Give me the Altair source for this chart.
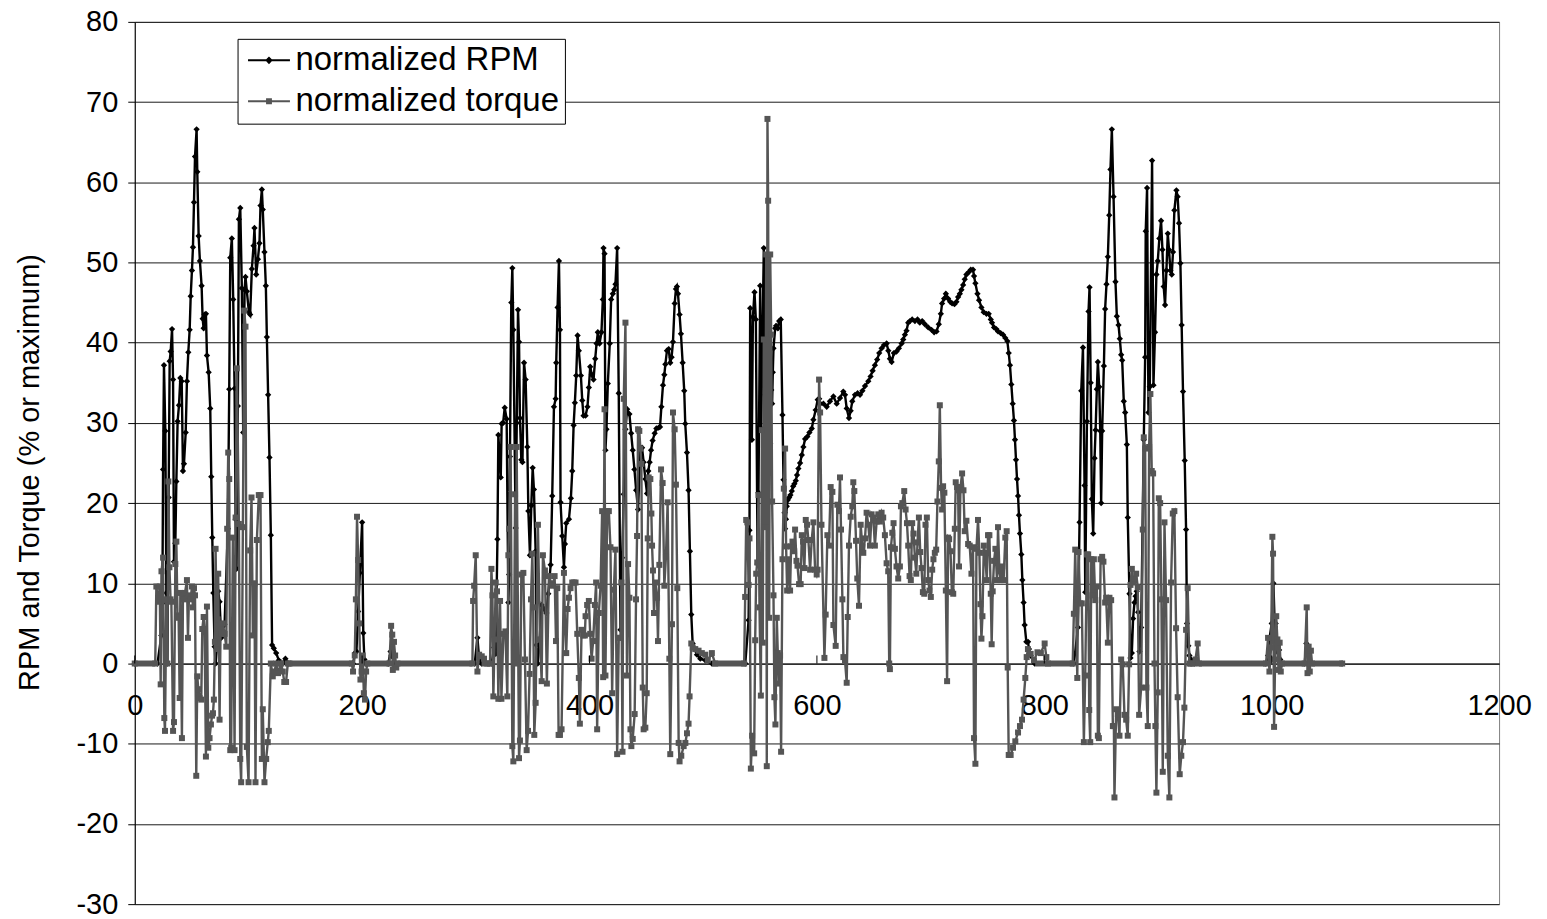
import altair as alt
import pandas as pd

# ---------------- data ----------------
# normalized RPM, (time, value) pairs per driving segment
rpm_seg1 = [(0, 0), (20, 0), (23.4, 3.5), (24.3, 7.5), (24.9, 24.2), (25.7, 37.2), (26.9, 29), (27.8, 8.8), (28.7, 0),
            (29.8, 20.7), (30.7, 37.7), (31.6, 38.9), (32.8, 41.7), (33.7, 35.4), (34.5, 12.7), (35.7, 15), (36.6, 22.7),
            (37.7, 30.2), (38.9, 32.2), (40.1, 35.6), (41.3, 35.2), (42.4, 24), (43.3, 24.9), (44.8, 28.8), (45.9, 35.2),
            (47.1, 38.8), (48.3, 41.6), (49.2, 45.8), (50.3, 49), (51.2, 51.9), (52.1, 57.5), (53, 63.2), (54.4, 66.6),
            (55, 61.3), (56.2, 53.3), (57.3, 50.2), (58.8, 47.1), (59.7, 43), (60.6, 41.8), (61.4, 43.5), (62.6, 43.6),
            (63.5, 38.4), (65, 36.3), (66.4, 31.8), (67.3, 23.3), (68.2, 15.7), (69.1, 8.8), (70.2, 2.1), (71.1, 0),
            (72.3, 2.1), (73.4, 9), (74.6, 7.7), (76.1, 3.2), (77.5, 4.6), (79, 4.9), (81.9, 16.8), (83.1, 34.2),
            (84, 50.6), (85.4, 53), (86.6, 45.4), (87.8, 34.3), (88.7, 18), (89.5, 11.8), (90.7, 32.1), (91.6, 55.4),
            (92.8, 56.8), (94.2, 46.8), (95.4, 28.8), (96.6, 46.6), (97.4, 48.2), (98.6, 46.4), (100.4, 43.8),
            (101.5, 43.5), (103, 49.2), (104.5, 52.1), (105.3, 54.3), (106.8, 48.5), (108.3, 50.4), (109.7, 52.4),
            (110.6, 57.1), (111.8, 59.1), (112.6, 56.6), (114.1, 51.3), (115.3, 47.1), (116.2, 40.7), (117.3, 33.5),
            (118.5, 25.7), (119.7, 16), (120.8, 2.3), (122.3, 1.9), (124.4, 1.3), (126.7, 0.4), (130.2, 0), (132.5, 0.6),
            (135, 0)]
rpm_seg2 = [(192, 0), (193.7, 1.3), (195, 1.5), (196.5, 6.5), (198, 11.3), (200, 17.6), (201, 3.8), (202, 0.5),
            (203, 0), (223, 0), (225, 1.5), (226, 1), (227, 0.8), (228, 0), (299, 0), (301.4, 3.2), (303, 0.5), (305, 0)]
rpm_seg3 = [(314, 0), (316, 2), (317.5, 1.2), (319, 15.5), (319.8, 28.5), (321.9, 23.2), (322.7, 29.9), (324, 30),
            (325.4, 31.9), (327.1, 30.5), (328.6, 7.6), (329.3, 11.1), (330, 25.8), (331.2, 45), (332.1, 49.3),
            (333, 41.6), (335, 16.9), (336, 30), (337.1, 44.1), (338, 40.1), (338.8, 30.6), (340, 25.4), (341, 25.1),
            (342.4, 37.5), (343.8, 35.4), (345.3, 27), (346.2, 19), (347.6, 13.5), (348.8, 19.7), (350, 24.4),
            (351.1, 21.7), (352.6, 14), (353.2, 2.3), (354.4, 0), (355.8, 2.3), (357.9, 7.3), (360, 6.8), (362, 6.3),
            (363.7, 8.7), (365.8, 12.3), (367.2, 20.9), (368.7, 32), (370.2, 33), (370.7, 37.5), (371.9, 44.4),
            (373.1, 50.2), (374, 41.6), (374.5, 20.1), (376, 15.9), (377.5, 12), (378.4, 14.9), (379.5, 17.5),
            (381.9, 18), (383.6, 20.6), (384.8, 24), (386, 29.7), (387.1, 32.5), (388.3, 35.9), (389.5, 40.9),
            (390.6, 39), (392.4, 35.9), (393.6, 32.8), (394.7, 30.9), (396.5, 30.9), (398.2, 32), (399.4, 34.4),
            (400.6, 37), (402, 36), (403.5, 35.4), (405, 38), (406.2, 39.9), (407.3, 41.3), (408.8, 39.9), (410.5, 41.3),
            (411.7, 45.4), (412.3, 51.8), (413.2, 51.1), (414, 26.6), (414.9, 29.2), (416.1, 34.9), (417.8, 39.9),
            (419, 45.4), (420.5, 46.1), (421.7, 46.6), (422.8, 47.3), (424.3, 51.8), (425.7, 33.7), (427.2, 4.2),
            (428.7, 13.2), (430.1, 21.1), (431.6, 29.2), (433.1, 31.7), (435.1, 31.1), (436.6, 28.7), (438, 26.6),
            (439.5, 24.2), (441, 21.6), (442.7, 19.2), (444.7, 26.8), (446.2, 26.9), (447.6, 25.1), (449.1, 23),
            (450.6, 21.2), (451.7, 24), (452.9, 25.1), (454.1, 26.6), (455.5, 27.8), (457.3, 28.7), (458.8, 29.3),
            (460.8, 29.4), (462, 29.5), (463.2, 32), (464.6, 34.7), (465.8, 36), (466.7, 37.3), (468.1, 39),
            (469.6, 39.2), (471, 37.5), (472.2, 38.2), (473.4, 40.1), (474.9, 44.9), (476, 46.7), (476.9, 47),
            (477.8, 46.1), (479.2, 43.5), (480.4, 41.1), (481.9, 37.5), (483.3, 34), (484.2, 29.9), (485.7, 26.3),
            (487.1, 21.6), (488.3, 14), (489.5, 6.1), (490.7, 2.5), (492.4, 1.8), (494.5, 1.1), (497.4, 0.6),
            (501.8, 0.4), (507.6, 0)]
rpm_seg4 = [(537, 0), (539.9, 5.4), (540.7, 16.6), (541.3, 44.3), (542.8, 27.9), (543.7, 43.2), (545.1, 46.3),
            (546.3, 42.9), (547.8, 12.4), (548.6, 21.3), (550.1, 47.1), (551, 29.3), (552.1, 40.4), (553.3, 51.8),
            (554.5, 33.5), (555.4, 31.6), (556.5, 46), (557.7, 24.6), (558.9, 27.4), (559.8, 34.1), (560.6, 32.4),
            (561.2, 36.3), (561.8, 39.3), (563.3, 41.8), (564.1, 42.1), (565.6, 41.8), (566.8, 42.7), (568.2, 42.9),
            (569.7, 31), (570.6, 22.9), (571.5, 18.8), (572, 16.8), (572.8, 18), (573.5, 19.6), (574.4, 20.4),
            (575.6, 20.7), (576.7, 21), (577.9, 21.5), (579.1, 22.1), (580.2, 22.4), (581.4, 22.8), (582.5, 23.5),
            (583.7, 24.3), (585.2, 25), (586.7, 26), (588.1, 27), (589.6, 28), (591.6, 28.3), (593.4, 28.8),
            (595.5, 29.3), (596.9, 30.4), (598.9, 31.6), (600.7, 32.9), (602, 33), (603, 32.4), (605.7, 32.4),
            (608.6, 32), (611.5, 32.7), (614.5, 33.3), (617.4, 32.4), (620.3, 33.1), (623.2, 33.9), (624.7, 33.5),
            (626.2, 31.8), (628.2, 30.6), (629.7, 31.5), (631.1, 32.7), (633.5, 33.5), (635.8, 33.7), (637.9, 33.5),
            (640, 34), (642.3, 34.6), (645.2, 35.2), (647.2, 35.8), (649, 36.5), (651, 37.2), (653, 37.9),
            (654.8, 38.7), (656.9, 39.3), (659, 39.7), (661.3, 39.9), (662.8, 39), (664.2, 38), (665.7, 37.6),
            (667.7, 38.7), (670, 38.9), (672.1, 39.3), (674.5, 39.9), (675.9, 40.4), (677.4, 41), (678.8, 41.5),
            (680.3, 42.5), (681.8, 42.7), (683.8, 42.9), (686.2, 42.7), (688.5, 42.9), (690.5, 42.5), (692.6, 42.7),
            (695, 42.3), (697.9, 41.9), (700.8, 41.6), (703.1, 41.3), (705.2, 41.4), (707.2, 42.3), (709, 43.6),
            (710.1, 44.9), (711.9, 45.5), (713.4, 46.1), (715.4, 45.5), (717.2, 45.1), (718.9, 44.9), (721, 44.8),
            (722.7, 45.1), (724.2, 45.7), (725.7, 46.1), (727.1, 46.6), (728.6, 47.2), (730, 47.9), (731.5, 48.5),
            (733.6, 48.8), (735.3, 49.1), (737.3, 49.1), (738.2, 48.3), (739.4, 47.4), (741.2, 46.1), (742.6, 45.3),
            (744.7, 44.4), (746.7, 43.8), (749.1, 43.6), (751.1, 43.6), (752.9, 42.9), (754, 42.5), (755.8, 41.9),
            (757.8, 41.7), (759.3, 41.4), (761.6, 41.2), (763.7, 41), (765.7, 40.6), (767.5, 40.2), (768.7, 38.7),
            (769.8, 37.2), (771, 34.8), (772.2, 32.4), (773.3, 30.3), (774.2, 27.9), (775.1, 25.4), (776, 23),
            (776.9, 20.9), (777.7, 18.5), (778.6, 16.2), (779.8, 13.6), (780.7, 10.4), (781.8, 7.6), (782.7, 4.8),
            (784.2, 2.7), (785.7, 2.7), (786.5, 1.8), (788, 1), (791.5, 0)]
rpm_seg5 = [(826, 0), (829.6, 4.5), (831, 17.6), (832.5, 34), (834, 39.4), (835.4, 22.2), (836, 8.9), (837.5, 30.2),
            (838.9, 43.9), (839.8, 46.9), (840.8, 35), (841.8, 20.5), (843, 16.2), (844.2, 25.6), (845.1, 29.1),
            (846.2, 34.2), (847.1, 37.6), (848.3, 34.5), (849.2, 29), (850, 20), (850.9, 29), (852.4, 37.1),
            (853.5, 44.2), (854.7, 47.3), (855.9, 50.7), (857.1, 55.9), (858.2, 61.6), (859.4, 66.6), (860.9, 58.2),
            (862.6, 47.6), (863.8, 43.3), (865.3, 42.2), (866.4, 40.5), (867.6, 38.5), (868.5, 37.8), (869.9, 32.7),
            (871.1, 31.3), (872.6, 27.3), (873.4, 18.2), (874.9, 8.7), (875.8, 0.7), (877, 1.3), (878.1, 5.6),
            (879.3, 7.6), (880.3, 8.4), (881.3, 9), (882.5, 6.4), (883.7, 1.5), (885.2, 4.5), (887.5, 27.9),
            (888.7, 38.2), (889.2, 53.9), (890.4, 59.3), (891.6, 31.3), (892.8, 34.5), (894.8, 62.7), (896, 34.7),
            (897.4, 41.3), (898.6, 48.5), (899.8, 50.2), (901.2, 53), (902.7, 55.2), (903.9, 51.6), (905, 47),
            (906.2, 44.7), (907.4, 49), (908.6, 53.6), (909.7, 51.6), (910.9, 49), (912.1, 48.5), (913.2, 51.3),
            (914.4, 56.5), (916.2, 59), (917.3, 58.2), (918.5, 54.9), (919.7, 49.9), (920.8, 42.2), (922, 33.9),
            (923.5, 25.3), (924.7, 16.7), (925.5, 5), (926.7, 2.2), (927.6, 1), (929, 0.5), (932, 0)]
rpm_seg6 = [(995, 0), (996.8, 1), (998, 3), (1000, 5), (1001.5, 10), (1002.7, 4.6), (1003.5, 5), (1004.5, 3),
            (1005.5, 1.4), (1006.5, 1.7), (1007.5, 0.5), (1009, 0), (1029, 0), (1030.5, 2.5), (1031.5, 1.5),
            (1032.5, 1), (1034, 0), (1062, 0)]

# normalized torque, (time, value) pairs per driving segment
tq_seg1 = [(0, 0), (18, 0), (19, 9.6), (20.5, 7.7), (22, 9.6), (22.8, -2.6), (23.5, 11.5), (24.9, 13.2), (26, -6.8),
           (26.6, -8.4), (27.8, 8), (28.7, 0), (29.6, 22.7), (30.5, 12), (31.5, 8), (32.2, 7.7), (33.7, -8.4),
           (34.5, -7.3), (35.7, 12.4), (36.6, 15.2), (37.6, 6), (38.6, 5.7), (39.5, -4.3), (40.1, 8.8), (41.5, -9.3),
           (42.4, 8.5), (43.3, 8), (44.2, 8.8), (45.9, 10.4), (46.8, 3.2), (47.7, 8.5), (49.2, 8), (50.3, 9.6),
           (51.2, 7), (52.1, 9.4), (53, 8.5), (54.1, -14), (55, -1.6), (55.9, -3.2), (57, -4.3), (58.5, -4.5),
           (59.4, 4.3), (60.6, 5.8), (61.4, 4.3), (62.6, -11.6), (63.5, 7.1), (64.7, -10.5), (65.8, -9.3), (67, -7.6),
           (68, -6.5), (68.8, -6.2), (69.6, -4.5), (70.5, 2.7), (71.1, 14.3), (72.3, 1.8), (72.9, 5.5), (73.4, 11.2),
           (74.6, -7), (75.5, 4.8), (76.7, 3.7), (77.5, 5), (79, 3.7), (80.5, 2.1), (81.3, 16.8), (82.2, 26.3),
           (83.1, 23), (84, -10.8), (84.8, -10.5), (86.3, 15.7), (87.8, -10.8), (88.7, 18.2), (89.8, 36.8),
           (91.6, 17.4), (92.8, -11.9), (93.6, -14.8), (95.1, 17), (96.3, 44), (97.4, 42), (98.6, -10.4),
           (100.1, -14.8), (101.5, 14.1), (102.7, 20.7), (103.9, 3.5), (105.3, 10), (106.2, -14.8), (107.4, 15.4),
           (109.1, 21), (110.6, 21), (111.8, -11.9), (112.6, -5.7), (114.1, -14.8), (115.6, -11.9), (117, -9.8),
           (117.9, -8.4), (119.7, 0), (121.4, -1.6), (122.9, -1), (124.4, 0), (126, -1.2), (128.7, 0), (130.2, -1),
           (131.5, -2.3), (133.1, -2.3), (134.6, 0), (136, 0)]
tq_seg2 = [(191, 0), (192, -1), (193.5, 1), (194.5, 8), (195.5, 18.3), (196.5, 12.9), (197.5, 5), (198.5, -2),
           (199.5, -1), (200.5, 1), (201.5, -3.7), (202.5, -4.5), (203.5, -1), (204.5, 0), (224, 0), (225.5, 4.7),
           (226.5, 3.6), (227, -0.8), (228, 2.7), (229, 1), (230, -0.5), (231, 0)]
tq_seg3 = [(297, 0), (297.6, 7.8), (298.5, 9.7), (299.9, 13.5), (301.4, -1), (302.9, 1.1), (305.2, 0.9),
           (307.2, 0.6), (310, 0), (312.5, 0), (313.7, 11.8), (314.6, 8.5), (315.4, -4.1), (316.5, 3), (317.5, 10.1),
           (318.6, 9), (319.8, -4.4), (321.3, 7.8), (322.5, -4.4), (324.2, 3.7), (326, 4), (327.7, -4.1),
           (328.6, 13.5), (329.2, 16.8), (330.6, 27), (332.1, -10.3), (333, -12.2), (334.5, 21.1), (335.2, 0),
           (335.9, 27), (338, -11.8), (338.8, -9.6), (340, 11.1), (341.8, 11.3), (343.2, 0.5), (344.7, -10.8),
           (345.9, -8.4), (347.3, -1.3), (348.5, 8), (349.7, 13.7), (350.5, 7), (351.4, -8.9), (352.6, -4.9),
           (354.6, 17.3), (356.4, 3), (357.9, -2.2), (359, 13.5), (360.8, 11.6), (362.5, -2.5), (364.3, 10.9),
           (366.3, 10), (367.8, 9.7), (369.3, 10.9), (370.5, 2.8), (371.6, 9.4), (372.8, -8.9), (374, -8.9),
           (375.4, -8.2), (377.5, 11.3), (378.4, 4.9), (379.5, 1.3), (380.7, 6.8), (381.9, 8.2), (383.3, 9.4),
           (384.8, 10.1), (386.2, 10.1), (387.7, 10.1), (389.2, 3.7), (390.6, -1.8), (391.5, -7.5), (393, 4.2),
           (394.5, 3.5), (395.9, 3.5), (396.5, 5.9), (397.9, 7.3), (399.4, 7.8), (400.6, 3.7), (401.8, 0.6),
           (403.2, 2.8), (404.7, 7.3), (405.8, 10.1), (406.7, -8.2), (408.2, 6.3), (409.7, 9.7), (411.1, 19),
           (412, -1.7), (413.2, 31.7), (414, -1.5), (415.5, 19), (417, 19), (418.4, 14.5), (419.9, -3.7),
           (421.4, 9.2), (422.8, 14.2), (424.3, -11.3), (425.7, 3.2), (427.2, 3.2), (428, 10.1), (429, -11),
           (430.1, 33), (431.6, 42.5), (432.9, -1.5), (433.9, 12.4), (435.1, 8.2), (436, -8.2), (436.8, -10.3),
           (438, -9.4), (439.7, -6.3), (440.9, 8), (441.8, 15.9), (442.7, 29.2), (443.8, 29), (444.7, 26.8),
           (445.6, 24.9), (446.8, -3), (447.6, -8.2), (449.1, -8), (450.3, -3.7), (451.2, 15.6), (452, 23.2),
           (453.5, 23), (454.4, 18.7), (455, 14.7), (455.8, 11.6), (456.7, 6.3), (457.9, 10.1), (459.4, 8.2),
           (460.2, 2.8), (461.4, 12.3), (462.9, 24.2), (464.3, 22.5), (465.8, 9.7), (467.2, 13.3), (468.7, 20.1),
           (470.2, 0.6), (471, -11.3), (472.5, 4.9), (473.4, 31.3), (474.9, 29.2), (476, 22.3), (477.2, 9.4),
           (478.4, -9.9), (479.2, -12.2), (480.7, -11.5), (482.8, -10.3), (484.3, -9.9), (485.7, -8.7),
           (487.1, -7.5), (488, -4.1), (489.5, 2.5), (490.7, 2), (493, 1.8), (495.9, 1.6), (498.8, 1.3),
           (501.8, 1.1), (504, 0.4), (507.6, 1.3), (510.5, 0)]
tq_seg4 = [(536, 0), (536.9, 8.3), (537.8, 17.9), (538.8, 17.6), (539.9, 9.8), (540.7, 15.6), (541.9, -13.1),
           (543, -9), (544.8, -11.2), (545.7, 2.9), (546.6, 11.2), (547.5, 12.6), (548.6, 21), (549.5, 7),
           (550.7, -4), (551.6, 29.1), (552.4, 2.6), (553.3, 40.4), (554.5, 17), (555.4, 51), (555.9, -12.8),
           (556.5, 67.9), (557.1, 57.7), (558, 5.7), (558.9, 51), (559.8, 41), (560.6, 20.2), (561.8, 8.5),
           (562.6, -4.2), (563.5, -7.6), (564.7, 5.7), (565.6, 1.3), (566.4, -2.5), (567.6, 1), (568.5, -11),
           (569.7, 13), (570.9, 21.8), (572, 26.8), (572.9, 14.6), (573.8, 9.1), (575, 13), (576.4, 9.1),
           (577.3, 14.6), (578.5, 15.2), (580, 14), (580.8, 16.7), (582, 12.8), (582.9, 12.2), (584.3, 9.9),
           (585.7, 9.9), (586.7, 16), (587.8, 15.2), (589, 11.9), (590.2, 17.9), (591.3, 17.3), (592.5, 15.4),
           (594, 11.7), (595.4, 15.4), (596.9, 17.6), (598.4, 11.7), (599.8, 11.1), (600.6, 11.7), (601.9, 35.4),
           (602.8, 31.3), (604, 17.3), (606.6, 0.7), (607.7, 6.1), (609.2, 16), (610.6, 14.7), (612.1, 22),
           (613.6, 21.4), (614.5, 4.8), (616.5, 2.2), (618, 19.8), (619.4, 19), (620.3, 23.2), (621.2, 16.7),
           (622.4, 8), (623.3, 0.8), (624.7, 0.4), (626.2, -2.4), (627.1, 5.8), (628.2, 14.7), (629.7, 18.3),
           (631.1, 19.6), (632, 22.6), (632.9, 21.5), (634.4, 15.3), (635.5, 10.6), (637, 7.2), (638.5, 17.3),
           (640, 14.5), (640.8, 13.8), (642.3, 15.6), (643.7, 18.8), (645.2, 17.3), (646.7, 14.7), (648.1, 18.6),
           (649.6, 18.2), (651, 14.7), (652.5, 17.7), (654, 18.6), (655.4, 17.7), (656.9, 18.8), (658.3, 18.2),
           (659.8, 16), (661.3, 12.5), (662.7, 11.5), (663.6, 0), (664.2, -0.7), (665.1, 14.5), (666.3, 16.3),
           (667.4, 17.5), (668.6, 14.3), (670, 12.1), (671.5, 10.6), (673, 12.1), (673.9, 19.6), (675.1, 20),
           (676.8, 21.5), (678, 19.2), (679.2, 17.5), (680.3, 14.7), (681.5, 10.9), (682.6, 10.4), (683.8, 17.5),
           (685, 16.2), (686.2, 13.2), (687.4, 11.2), (688.5, 15.1), (689.7, 18.2), (690.9, 13.9), (692, 11.9),
           (693.2, 8.9), (694.4, 8.7), (695.5, 17.3), (696.7, 18.2), (697.9, 10.4), (699, 9.1), (700.2, 8.3),
           (701.4, 11.7), (702.5, 13), (703.7, 13.8), (704.9, 14.2), (706, 20.2), (707.2, 25.2), (708.1, 32.2),
           (709.2, 21.9), (710.1, 19.2), (711, 22.1), (712.1, 21.3), (713.4, 9.1), (714.5, -2.2), (715.4, 15.7),
           (716.3, 15.5), (717.5, 14), (718.7, 8.9), (719.9, 8.7), (721.3, 16.8), (722.1, 22.6), (723.3, 22),
           (724.2, 21.6), (725, 12.1), (726.3, 22), (727.7, 23.7), (728.9, 21.6), (730, 16.5), (731.5, 17.8),
           (733, 14.9), (734.4, 14.7), (735.9, 11.2), (737.3, 14.5), (738.2, -9.3), (739.4, -12.5), (740.3, 14.3),
           (741.7, 17.9), (742.9, 13.8), (743.8, 7.4), (744.7, 3.1), (745.6, 5.9), (746.8, 14.7), (747.9, 13.8),
           (749.4, 10.4), (750.5, 16), (751.7, 16), (752.9, 8.7), (753.7, 2.4), (754.6, 9), (755.8, 12.8),
           (757, 14.3), (758.4, 10.4), (759.3, 17), (760.5, 11.5), (761.6, 10.4), (763, 12.1), (764.2, 10.4),
           (765.7, 15.7), (766.9, 16.5), (767.8, -0.5), (768.7, -11.4), (770.4, -11.4), (772.5, -10.5),
           (774.5, -9.7), (776.9, -8.6), (778.6, -7.8), (780.4, -7), (781.8, -4.5), (783.3, -1.8), (784.5, 0.8),
           (785.6, 1.8), (788, 1.2), (790.9, 0.4), (794, 1.4), (797, 1.3), (800.3, 2.5), (801.8, 0.8), (803.2, 0)]
tq_seg5 = [(825, 0), (826, 6.2), (827.2, 14.2), (828, 8), (829, -1.8), (830.1, 13.9), (831.5, 7.5), (833, 7.5),
           (834.8, -9.8), (836, -1.5), (837.5, 13.6), (838.6, 13.6), (839.5, -5.8), (840.4, -9.8), (841.3, 13),
           (842.4, 8.5), (843.6, 13), (844.8, 7.9), (846.2, 9.6), (847.1, -9), (848, -9.3), (849.5, 13),
           (850.9, 13.3), (852, 12.7), (853.5, 7.6), (854.4, 8.2), (855.9, 2.6), (857.3, 8.2), (858.8, 7.9),
           (860.3, -7.8), (861.2, -7.8), (861.7, -16.7), (863.2, -5.7), (864.7, -6.3), (866.1, -9), (867.6, 0.5),
           (869, -0.1), (870.5, -6.4), (872, -7), (873.4, -9), (874.6, -0.1), (875.8, 9.8), (877, 11.8),
           (878.1, 10.1), (879.3, 10.6), (880.8, 11.2), (882.2, 9.5), (883.4, -6.4), (885.2, -3), (886.6, 16.7),
           (887.5, 28.2), (888.7, 26.8), (889.8, -3), (891, -7.8), (892.2, 27), (893.3, 33.6), (894.5, 24),
           (895.7, 23.7), (896.9, 0), (897.7, -7.8), (898.6, -16.1), (899.8, -3.6), (900.7, 20.6), (901.9, 20),
           (903, 8), (904.2, -13.5), (905.7, 17.6), (907.1, 7.9), (908.6, -11.5), (910, -16.7), (911.5, 10.1),
           (913, 18.7), (914.4, 19), (915.9, 4.4), (917.3, -4.2), (919.1, -13.8), (920.5, -11.5), (922, -9.8),
           (923.2, -5.5), (924.7, 4.2), (926.1, 9.4), (927.6, 0), (929, 0), (931, 0), (933, 0.5), (934.9, 2.5),
           (936, 0)]
tq_seg6 = [(995, 0), (996.8, 3.2), (998, -1), (999.5, 2), (1000.6, 15.8), (1001.2, 13.7), (1002.1, -7.9),
           (1003, 0.5), (1004, 5.9), (1005, 3), (1006, -0.8), (1007, 2.6), (1008, -1), (1009, 0), (1029, 0),
           (1030.8, 7), (1031.5, -1.2), (1032.5, 2.1), (1033.5, -1), (1034.5, 1.6), (1035.5, 0), (1062, 0)]

# idle stretches (both values zero, markers merge into a thick band)
idle_start = [0, 136, 204, 231, 305, 508, 792, 936, 1009, 1035]
idle_end = [18, 192, 224, 297, 313, 537, 826, 995, 1029, 1062]

series_names = ["normalized RPM", "normalized torque"]
x_tick_values = [0, 200, 400, 600, 800, 1000, 1200]
y_tick_values = [-30, -20, -10, 0, 10, 20, 30, 40, 50, 60, 70, 80]

# ---------------- tables ----------------
rpm_df = pd.DataFrame(rpm_seg1 + rpm_seg2 + rpm_seg3 + rpm_seg4 + rpm_seg5 + rpm_seg6, columns=["t", "v"])
tq_df = pd.DataFrame(tq_seg1 + tq_seg2 + tq_seg3 + tq_seg4 + tq_seg5 + tq_seg6, columns=["t", "v"])
idle_df = pd.DataFrame({"s": idle_start, "e": idle_end})
legend_df = pd.DataFrame({"series": series_names})
xtick_df = pd.DataFrame({"t": x_tick_values[:-1]})

FONT = "Liberation Sans"
BLACK = "#000000"
GRAY = "#555555"
PLAIN = "'' + datum.value"

x_scale = alt.Scale(domain=[0, 1200], nice=False, zero=False)
y_scale = alt.Scale(domain=[-30, 80], nice=False, zero=False)

x_enc = alt.X("t:Q", scale=x_scale,
              axis=alt.Axis(values=x_tick_values, title=None, grid=False, offset=-241,
                            domainColor=BLACK, domainWidth=1, tickSize=0, labelExpr=PLAIN,
                            labelFont=FONT, labelFontSize=29, labelColor=BLACK,
                            labelPadding=28, labelFlush=False, labelOverlap=False))
y_enc = alt.Y("v:Q", scale=y_scale,
              axis=alt.Axis(values=y_tick_values, title="RPM and Torque (% or maximum)", labelExpr=PLAIN,
                            grid=True, gridColor="#1a1a1a", gridWidth=1,
                            domainColor=BLACK, tickColor=BLACK, tickSize=7,
                            labelFont=FONT, labelFontSize=29, labelColor=BLACK, labelPadding=10,
                            titleFont=FONT, titleFontSize=29, titleFontWeight="normal", titleColor=BLACK,
                            titleX=-105, titleY=451, titleAngle=270, titleAlign="center",
                            titleBaseline="middle"))

rpm_line = alt.Chart(rpm_df).mark_line(color=BLACK, strokeWidth=2.4).encode(x=x_enc, y=y_enc)
rpm_pts = alt.Chart(rpm_df).mark_point(shape="diamond", filled=True, color=BLACK, size=40, opacity=1).encode(
    x="t:Q", y="v:Q")
tq_line = alt.Chart(tq_df).mark_line(color=GRAY, strokeWidth=2.4).encode(x="t:Q", y="v:Q")
tq_pts = alt.Chart(tq_df).mark_point(shape="square", filled=True, color=GRAY, size=36, opacity=1).encode(
    x="t:Q", y="v:Q")
idle_band = alt.Chart(idle_df).mark_rule(color=GRAY, strokeWidth=6).encode(
    x="s:Q", x2="e:Q", y=alt.datum(0))
xticks = alt.Chart(xtick_df).mark_rule(color=BLACK, strokeWidth=1).encode(
    x="t:Q", y=alt.datum(0), y2=alt.datum(1))

path_rpm = ("M-3,-0.15L-0.4,-0.15L0,-0.55L0.4,-0.15L3,-0.15L3,0.15L0.4,0.15L0,0.55L-0.4,0.15L-3,0.15Z")
path_tq = ("M-3,-0.15L-0.42,-0.15L-0.42,-0.42L0.42,-0.42L0.42,-0.15L3,-0.15L3,0.15L0.42,0.15"
           "L0.42,0.42L-0.42,0.42L-0.42,0.15L-3,0.15Z")

leg = dict(title=None, orient="none", legendX=103, legendY=17, padding=5,
           strokeColor=BLACK, fillColor="white",
           labelFont=FONT, labelFontSize=33, labelColor=BLACK, labelOffset=10, labelLimit=400,
           symbolSize=196, symbolOffset=10, symbolOpacity=1, symbolStrokeWidth=0,
           rowPadding=7)
legend_layer = alt.Chart(legend_df).mark_point(filled=True, opacity=0, size=196).encode(
    x=alt.datum(0), y=alt.datum(0),
    color=alt.Color("series:N", scale=alt.Scale(domain=series_names, range=[BLACK, GRAY]),
                    legend=alt.Legend(**leg)),
    shape=alt.Shape("series:N", scale=alt.Scale(domain=series_names, range=[path_rpm, path_tq]),
                    legend=alt.Legend(**leg)),
)

chart = alt.layer(rpm_line, rpm_pts, idle_band, tq_line, tq_pts, xticks, legend_layer).properties(
    width=1367, height=884,
    autosize=alt.AutoSizeParams(type="none"),
    padding={"left": 127, "top": 13, "right": 40, "bottom": 13},
    background="white",
).configure_view(stroke="#7f7f7f", strokeWidth=1)

chart.save("out.html", embed_options={"renderer": "svg", "actions": False})
